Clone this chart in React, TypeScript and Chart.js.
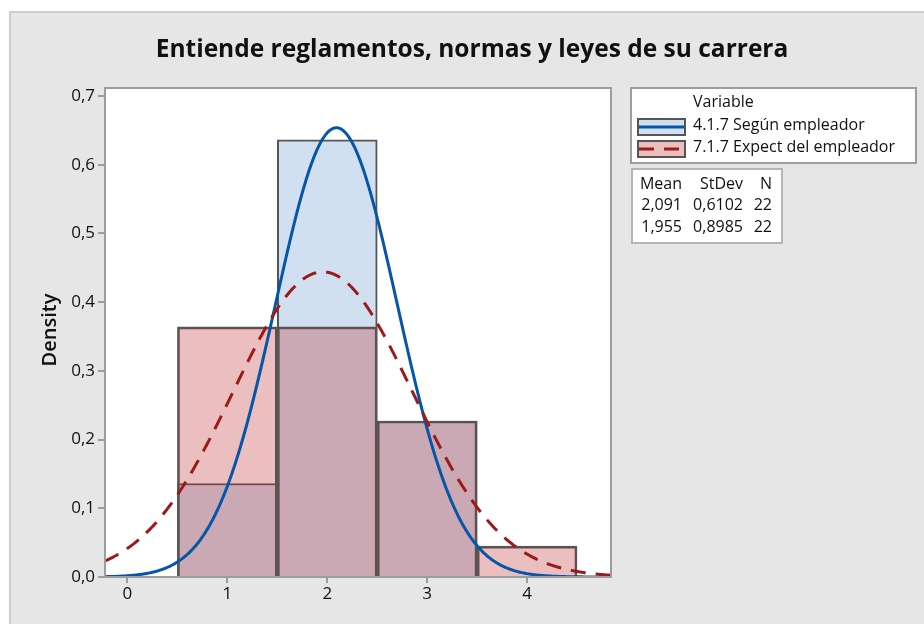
import React, { useEffect, useRef } from "react";
import { Chart, registerables } from "chart.js";

Chart.register(...registerables);

const TITLE = "Entiende reglamentos, normas y leyes de su carrera";
const Y_LABEL = "Density";
const LEGEND_HEADER = "Variable";
const VARIABLES = ["4.1.7 Según empleador", "7.1.7 Expect del empleador"];

// Histogram bins (centres) and densities
const BINS_A = [1, 2, 3];
const DENSITY_A = [0.136, 0.636, 0.227];
const BINS_B = [1, 2, 3, 4];
const DENSITY_B = [0.364, 0.364, 0.227, 0.045];

// Fitted normal parameters
const MEANS = [2.091, 1.955];
const STDEVS = [0.6102, 0.8985];
const NS = [22, 22];
const STAT_HEADERS = ["Mean", "StDev", "N"];

const X_MIN = -0.225;
const X_MAX = 4.84;
const Y_MAX = 0.7116;

const FONT = "'Open Sans', 'Noto Sans', sans-serif";
const BLUE_FILL = "#d1e0f0";
const RED_FILL = "rgba(188,42,42,0.3)";
const BAR_BORDER = "#555555";
const BLUE_LINE = "#0656a8";
const RED_LINE = "#9b1b1b";
const AXIS_GRAY = "#9d9d9d";

function fmt(v: number, d: number) {
  return v.toFixed(d).replace(".", ",");
}

function normalCurve(mu: number, sd: number) {
  const pts: { x: number; y: number }[] = [];
  const n = 500;
  for (let i = 0; i <= n; i++) {
    const x = X_MIN + ((X_MAX - X_MIN) * i) / n;
    const z = (x - mu) / sd;
    pts.push({ x, y: Math.exp(-0.5 * z * z) / (sd * Math.sqrt(2 * Math.PI)) });
  }
  return pts;
}

const decorPlugin = {
  id: "decor",
  beforeDraw(chart: any) {
    const { ctx, chartArea } = chart;
    ctx.save();
    ctx.fillStyle = "#ffffff";
    ctx.fillRect(0, 0, 924, 624);
    ctx.fillStyle = "#e6e6e6";
    ctx.fillRect(9, 11, 915, 613);
    ctx.strokeStyle = "#cccccc";
    ctx.lineWidth = 2;
    ctx.beginPath();
    ctx.moveTo(10, 624);
    ctx.lineTo(10, 12);
    ctx.lineTo(924, 12);
    ctx.stroke();
    ctx.fillStyle = "#ffffff";
    ctx.fillRect(chartArea.left, chartArea.top, chartArea.right - chartArea.left, chartArea.bottom - chartArea.top);
    ctx.restore();
  },
  afterDraw(chart: any) {
    const { ctx, chartArea } = chart;
    ctx.save();
    // plot frame
    ctx.strokeStyle = AXIS_GRAY;
    ctx.lineWidth = 2;
    ctx.strokeRect(chartArea.left, chartArea.top, chartArea.right - chartArea.left, chartArea.bottom - chartArea.top);

    // title
    ctx.fillStyle = "#111111";
    ctx.font = `bold 24.5px ${FONT}`;
    ctx.textAlign = "center";
    ctx.textBaseline = "middle";
    ctx.fillText(TITLE, 472, 50);

    // y label
    ctx.save();
    ctx.translate(50, 330);
    ctx.rotate(-Math.PI / 2);
    ctx.font = `600 20px ${FONT}`;
    ctx.fillText(Y_LABEL, 0, 0);
    ctx.restore();

    // legend box
    ctx.fillStyle = "#ffffff";
    ctx.fillRect(631, 88, 285, 75);
    ctx.strokeStyle = AXIS_GRAY;
    ctx.lineWidth = 2;
    ctx.strokeRect(631, 88, 285, 75);
    ctx.fillStyle = "#111111";
    ctx.font = `16px ${FONT}`;
    ctx.textAlign = "left";
    ctx.fillText(LEGEND_HEADER, 693, 102);

    const swatches = [
      { y: 119, fill: BLUE_FILL, line: BLUE_LINE, dash: [] as number[] },
      { y: 141, fill: "#ecbfbf", line: RED_LINE, dash: [15, 10] },
    ];
    swatches.forEach((s, i) => {
      ctx.fillStyle = s.fill;
      ctx.fillRect(638, s.y, 47, 16);
      ctx.strokeStyle = BAR_BORDER;
      ctx.lineWidth = 2;
      ctx.strokeRect(638, s.y, 47, 16);
      ctx.strokeStyle = s.line;
      ctx.lineWidth = 3;
      ctx.setLineDash(s.dash);
      ctx.beginPath();
      ctx.moveTo(639, s.y + 8);
      ctx.lineTo(684, s.y + 8);
      ctx.stroke();
      ctx.setLineDash([]);
      ctx.fillStyle = "#111111";
      ctx.fillText(VARIABLES[i], 693, s.y + 6);
    });

    // stats box
    ctx.fillStyle = "#ffffff";
    ctx.fillRect(632, 169, 150, 74);
    ctx.strokeStyle = "#b5b5b5";
    ctx.lineWidth = 2;
    ctx.strokeRect(632, 169, 150, 74);
    ctx.fillStyle = "#111111";
    ctx.textAlign = "right";
    const cols = [682, 743, 772];
    STAT_HEADERS.forEach((h, i) => ctx.fillText(h, cols[i], 184));
    MEANS.forEach((m, r) => {
      const y = 205 + r * 22;
      ctx.fillText(fmt(m, 3), cols[0], y);
      ctx.fillText(fmt(STDEVS[r], 4), cols[1], y);
      ctx.fillText(String(NS[r]), cols[2], y);
    });
    ctx.restore();
  },
};

export default function App() {
  const ref = useRef<HTMLCanvasElement | null>(null);
  useEffect(() => {
    if (!ref.current) return;
    const tickFont = { family: FONT, size: 17 };
    const chart = new Chart(ref.current, {
      type: "bar",
      data: {
        datasets: [
          {
            type: "line",
            label: VARIABLES[1] + " fit",
            data: normalCurve(MEANS[1], STDEVS[1]),
            borderColor: RED_LINE,
            borderWidth: 3,
            borderDash: [15, 10],
            pointRadius: 0,
            tension: 0,
            order: 0,
          } as any,
          {
            type: "line",
            label: VARIABLES[0] + " fit",
            data: normalCurve(MEANS[0], STDEVS[0]),
            borderColor: BLUE_LINE,
            borderWidth: 3,
            pointRadius: 0,
            tension: 0,
            order: 1,
          } as any,
          {
            type: "bar",
            label: VARIABLES[1],
            data: BINS_B.map((x, i) => ({ x, y: DENSITY_B[i] })),
            backgroundColor: RED_FILL,
            borderColor: BAR_BORDER,
            borderWidth: 2,
            barPercentage: 1,
            categoryPercentage: 1,
            grouped: false,
            order: 2,
          } as any,
          {
            type: "bar",
            label: VARIABLES[0],
            data: BINS_A.map((x, i) => ({ x, y: DENSITY_A[i] })),
            backgroundColor: BLUE_FILL,
            borderColor: BAR_BORDER,
            borderWidth: 2,
            barPercentage: 1,
            categoryPercentage: 1,
            grouped: false,
            order: 3,
          } as any,
        ],
      },
      options: {
        responsive: false,
        animation: false,
        devicePixelRatio: 1,
        layout: { padding: { left: 0, top: 88, right: 313, bottom: 0 } },
        plugins: { legend: { display: false }, tooltip: { enabled: false }, title: { display: false } },
        scales: {
          x: {
            type: "linear",
            min: X_MIN,
            max: X_MAX,
            offset: false,
            afterFit: (s: any) => {
              s.height = 47;
            },
            ticks: {
              stepSize: 1,
              includeBounds: false,
              font: tickFont,
              color: "#111111",
              padding: 1,
              maxRotation: 0,
              autoSkip: false,
              callback: (v: any) => String(v),
            },
            grid: { offset: false, drawOnChartArea: false, drawTicks: true, tickLength: 6, color: AXIS_GRAY, lineWidth: 2 },
            border: { display: false },
          },
          y: {
            type: "linear",
            min: 0,
            max: Y_MAX,
            afterFit: (s: any) => {
              s.width = 105;
            },
            ticks: {
              stepSize: 0.1,
              includeBounds: false,
              font: tickFont,
              color: "#111111",
              padding: 3,
              callback: (v: any) => fmt(Number(v), 1),
            },
            grid: { drawOnChartArea: false, drawTicks: true, tickLength: 7, color: AXIS_GRAY, lineWidth: 2 },
            border: { display: false },
          },
        },
      },
      plugins: [decorPlugin],
    } as any);
    return () => chart.destroy();
  }, []);
  return (
    <div style={{ position: "fixed", left: 0, top: 0, width: 924, height: 624 }}>
      <canvas ref={ref} width={924} height={624} style={{ width: 924, height: 624, display: "block" }} />
    </div>
  );
}
